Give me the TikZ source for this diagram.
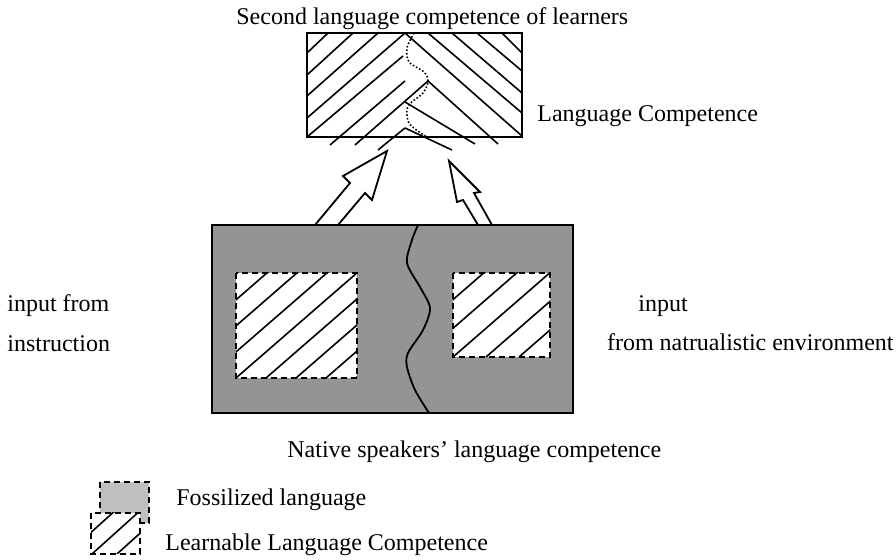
\documentclass[tikz,border=0pt]{standalone}
\usepackage{fontspec}
\setmainfont{Liberation Serif}
\usetikzlibrary{positioning}

\begin{document}
\begin{tikzpicture}[
  x=0.5pt, y=-0.5pt,
  node distance=9pt,
  lbl/.style={inner sep=0pt, font=\fontsize{12}{14}\selectfont, text height=8pt, text depth=2.5pt},
  hatch/.style={line width=0.8pt},
  dashbox/.style={draw, line width=0.9pt, dash pattern=on 3pt off 2pt},
  blockarrow/.style={line width=0.9pt, line join=miter}
]
\useasboundingbox (0,0) rectangle (896,560);

\coordinate (top nw) at (307,33);
\coordinate (top se) at (522,137);
\coordinate (nat nw) at (212,225);
\coordinate (nat se) at (573,413);

% second language competence
\draw[hatch] (307,53) -- (328,33);
\draw[hatch] (307,75) -- (353,33);
\draw[hatch] (307,96) -- (378,33);
\draw[hatch] (307,118) -- (405,33);
\draw[hatch] (307,137) -- (403,56);
\draw[hatch] (330,145) -- (405,81);
\draw[hatch] (355,145) -- (428,81);
\draw[hatch] (378,150) -- (405,128);
\draw[hatch] (405,33) -- (522,136);
\draw[hatch] (428,33) -- (522,113);
\draw[hatch] (452,33) -- (522,93);
\draw[hatch] (477,33) -- (522,71);
\draw[hatch] (502,33) -- (522,53);
\draw[hatch] (428,81) -- (498,144);
\draw[hatch] (405,102) -- (475,144);
\draw[hatch] (405,128) -- (452,150);
\draw[line width=0.8pt, densely dotted] plot[smooth] coordinates
  {(414,33) (407,48) (409,62) (424,72) (428,81) (423,93) (408,106) (408,121) (415,129) (427,137)};
\draw[line width=1.3pt] (top nw) rectangle (top se);

% native speakers' competence
\fill[black!42] (nat nw) rectangle (nat se);
\draw[line width=0.9pt] plot[smooth] coordinates
  {(418,225) (412,240) (407,263) (420,287) (430,308) (423,330) (408,353) (407,367) (415,390) (429,413)};
\draw[line width=1pt] (nat nw) rectangle (nat se);

\fill[white] (236,273) rectangle (357,378);
\begin{scope}
  \clip (236,273) rectangle (357,378);
  \foreach \i in {-4,...,4}
    \draw[hatch] ({236+30*\i},378) -- ++(160,-139);
\end{scope}
\draw[dashbox] (236,273) rectangle (357,378);

\fill[white] (453,273) rectangle (550,357);
\begin{scope}
  \clip (453,273) rectangle (550,357);
  \foreach \i in {-3,...,3}
    \draw[hatch] ({453+33*\i},357) -- ++(130,-113);
\end{scope}
\draw[dashbox] (453,273) rectangle (550,357);

% input arrows
\draw[blockarrow] (315,225) -- (350,183) -- (343,176) -- (387,151) -- (372,200) -- (365,193) -- (338,225);
\draw[blockarrow] (478,225) -- (463,200) -- (457,202) -- (449,161) -- (480,192) -- (474,193) -- (492,225);

% legend
\fill[black!25] (100,482) rectangle (149,523);
\draw[dashbox] (100,482) rectangle (149,523);
\fill[white] (91,513) rectangle (140,554);
\begin{scope}
  \clip (91,513) rectangle (140,554);
  \foreach \i in {0,...,3}
    \draw[hatch] ({117-25*\i},554) -- ++(60,-54);
\end{scope}
\draw[dashbox] (91,513) rectangle (140,554);

\node[lbl, anchor=base west] (title) at (236,25) {Second language competence of learners};
\node[lbl, anchor=base west] (lc) at (537,122) {Language Competence};
\node[lbl, anchor=base west] (inleft) at (7,312) {input from};
\node[lbl, below=9pt of inleft.south west, anchor=north west] (instr) {instruction};
\node[lbl, anchor=base west] (inright) at (638,312) {input};
\node[lbl, anchor=base east] (natenv) at (894,351) {from natrualistic environment};
\node[lbl, anchor=base west] (nsl) at (287,458) {Native speakers' language competence};
\node[lbl, anchor=base west] (fosl) at (176,506) {Fossilized language};
\node[lbl, anchor=base west] (learn) at (165,551) {Learnable Language Competence};
\end{tikzpicture}
\end{document}
